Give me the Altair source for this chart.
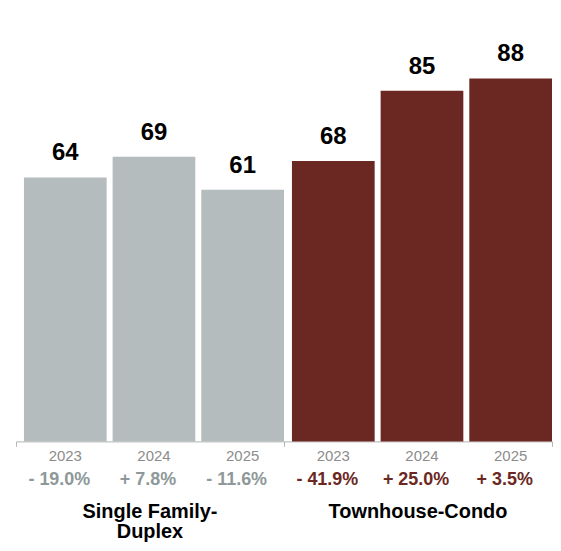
import altair as alt
import pandas as pd

groups = ["Single Family-Duplex", "Townhouse-Condo"]
group_labels = ["Single Family-\nDuplex", "Townhouse-Condo"]
years = ["2023", "2024", "2025"]
sfd_values = [64, 69, 61]
tc_values = [68, 85, 88]
sfd_changes = ["- 19.0%", "+ 7.8%", "- 11.6%"]
tc_changes = ["- 41.9%", "+ 25.0%", "+ 3.5%"]

rows = []
for g, vals, chg in zip(groups, [sfd_values, tc_values], [sfd_changes, tc_changes]):
    for yr, v, c in zip(years, vals, chg):
        rows.append({"group": g, "year": yr, "value": v, "change": c})
df = pd.DataFrame(rows)
lab = pd.DataFrame({"group": groups, "label": group_labels})

W = 538
H = 414
FONT = "Liberation Sans"

x = alt.X(
    "group:N",
    sort=groups,
    scale=alt.Scale(paddingInner=0, paddingOuter=0),
    axis=alt.Axis(labels=False, title=None, tickBand="extent", tickSize=5,
                  domainColor="#b4b4b4", tickColor="#b4b4b4", grid=False),
)
xo = alt.XOffset("year:N", sort=years,
                 scale=alt.Scale(paddingInner=6 / 89, paddingOuter=0.04494, align=1))

base = alt.Chart(df).encode(x=x, xOffset=xo)

bars = base.mark_bar().encode(
    y=alt.Y("value:Q", scale=alt.Scale(domain=[0, 100]), axis=None),
    color=alt.Color("group:N", scale=alt.Scale(domain=groups, range=["#b5bcbd", "#6b2822"]), legend=None),
)

values = base.mark_text(font=FONT, fontSize=24, fontWeight="bold", dy=-17,
                        baseline="alphabetic", color="#000000").encode(
    y=alt.Y("value:Q"),
    text=alt.Text("value:Q"),
)

yr_text = base.mark_text(font=FONT, fontSize=15, baseline="alphabetic", color="#8c8c8c").encode(
    y=alt.value(H + 20),
    text=alt.Text("year:N"),
)

chg_text = base.mark_text(font=FONT, fontSize=18, fontWeight="bold", baseline="alphabetic", dx=-6).encode(
    y=alt.value(H + 44),
    text=alt.Text("change:N"),
    color=alt.Color("group:N", scale=alt.Scale(domain=groups, range=["#8e9899", "#6b2822"]), legend=None),
)

grp_text = alt.Chart(lab).mark_text(font=FONT, fontSize=20, fontWeight="bold", baseline="alphabetic",
                                    lineBreak="\n", lineHeight=20, color="#000000").encode(
    x=x,
    y=alt.value(H + 77),
    text=alt.Text("label:N"),
)

chart = alt.layer(bars, values, yr_text, chg_text, grp_text).resolve_scale(
    color="independent"
).properties(
    width=W, height=H,
    padding={"left": 7, "top": 20, "right": 0, "bottom": 0},
).configure_view(stroke=None)

chart.save("out.html", embed_options={"renderer": "svg", "actions": False})
